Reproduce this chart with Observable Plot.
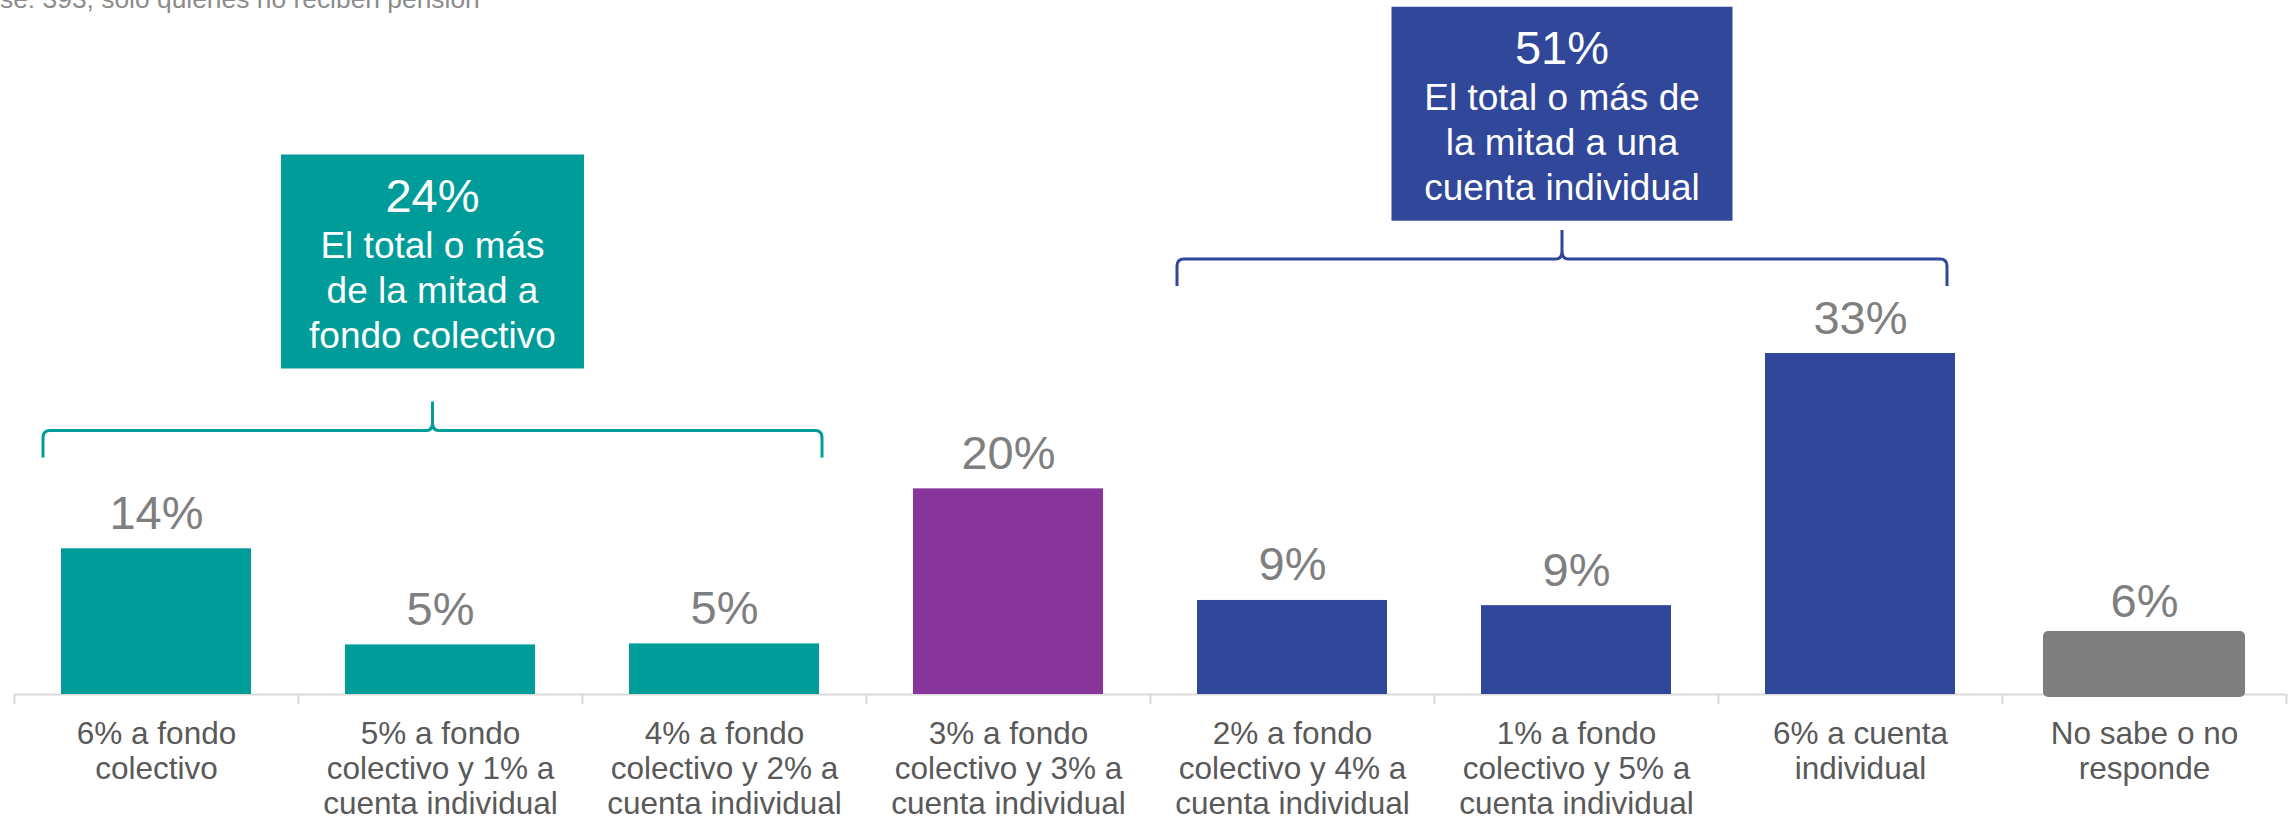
<!DOCTYPE html>
<html>
<head>
<meta charset="utf-8">
<script src="https://cdn.jsdelivr.net/npm/d3@7"></script>
<script src="https://cdn.jsdelivr.net/npm/@observablehq/plot@0.6"></script>
<style>
  html, body { margin: 0; padding: 0; background: #fff; }
  body { width: 2293px; height: 821px; overflow: hidden; position: relative; font-family: "Liberation Sans", Arial, sans-serif; }
  #sub { position: absolute; left: 0; top: -14px; font-size: 26.4px; line-height: 26px; color: #8c8c8c; white-space: nowrap; z-index: 2; }
  #chart svg { display: block; }
</style>
</head>
<body>
<div id="sub"></div>
<div id="chart"></div>
<script>
// ---- data ----
const categories = [
  "6% a fondo\ncolectivo",
  "5% a fondo\ncolectivo y 1% a\ncuenta individual",
  "4% a fondo\ncolectivo y 2% a\ncuenta individual",
  "3% a fondo\ncolectivo y 3% a\ncuenta individual",
  "2% a fondo\ncolectivo y 4% a\ncuenta individual",
  "1% a fondo\ncolectivo y 5% a\ncuenta individual",
  "6% a cuenta\nindividual",
  "No sabe o no\nresponde"
];
const values = [14.1, 4.8, 4.9, 19.9, 9.1, 8.6, 33.0, 6.1];
const valueLabels = ["14%", "5%", "5%", "20%", "9%", "9%", "33%", "6%"];
const barColors = ["#009C99", "#009C99", "#009C99", "#87359B", "#30479A", "#30479A", "#30479A", "#7F7F7F"];
const groupPct = ["24%", "51%"];
const groupText = ["El total o más\nde la mitad a\nfondo colectivo", "El total o más de\nla mitad a una\ncuenta individual"];
const groupFirst = [categories[0], categories[4]];
const groupLast = [categories[2], categories[6]];
const groupColors = ["#009C99", "#30479A"];
const subtitle = "se: 393, solo quienes no reciben pensión";

// ---- layout of annotations (in y-scale units / px) ----
const braceLevel = [25.5, 42.1];
const braceLeftOffset = [-18, -20];
const braceRightOffset = [3, -8];
const boxBottom = [31.5, 45.8];
const boxWidth = [303, 341];
const boxHeight = 214;

document.getElementById("sub").textContent = subtitle;

const rows = categories.map((c, i) => ({cat: c, value: values[i], label: valueLabels[i], color: barColors[i]}));
const main = rows.slice(0, 7);
const other = rows.slice(7);

function annotations(index, scales) {
  const {x, y} = scales;
  const bw = x.bandwidth();
  const g = d3.create("svg:g");
  groupFirst.forEach((first, k) => {
    const x0 = x(first) + braceLeftOffset[k];
    const x1 = x(groupLast[k]) + bw + braceRightOffset[k];
    const xm = (x0 + x1) / 2;
    const yb = y(braceLevel[k]);
    const c = groupColors[k];
    const d = `M${x0},${yb + 27} L${x0},${yb + 7} Q${x0},${yb} ${x0 + 7},${yb} L${xm - 6},${yb} Q${xm},${yb} ${xm},${yb - 8} L${xm},${yb - 29}` +
              ` M${xm},${yb - 8} Q${xm},${yb} ${xm + 6},${yb} L${x1 - 7},${yb} Q${x1},${yb} ${x1},${yb + 7} L${x1},${yb + 27}`;
    g.append("path").attr("d", d).attr("fill", "none").attr("stroke", c).attr("stroke-width", 3);
    const bb = y(boxBottom[k]);
    const top = bb - boxHeight;
    const w = boxWidth[k];
    g.append("rect").attr("x", xm - w / 2).attr("y", top).attr("width", w).attr("height", boxHeight).attr("fill", c);
    g.append("text").attr("x", xm).attr("y", top + 57).attr("text-anchor", "middle")
      .attr("fill", "#fff").attr("font-size", 47).text(groupPct[k]);
    groupText[k].split("\n").forEach((line, j) => {
      g.append("text").attr("x", xm).attr("y", top + 103 + 45 * j).attr("text-anchor", "middle")
        .attr("fill", "#fff").attr("font-size", 37).text(line);
    });
  });
  return g.node();
}

const chart = Plot.plot({
  width: 2293,
  height: 821,
  marginLeft: 14,
  marginRight: 7,
  marginTop: 0,
  marginBottom: 0,
  style: {fontFamily: "'Liberation Sans', Arial, sans-serif", background: "#fff"},
  x: {type: "band", domain: categories, paddingInner: 0.33, paddingOuter: 0.165, axis: null},
  y: {domain: [0, 33], range: [694, 353], axis: null},
  marks: [
    Plot.ruleY([0], {stroke: "#d9d9d9", strokeWidth: 2}),
    Plot.ruleX(categories, {x: d => d, y1: d => 0, y2: d => 0, insetBottom: -10, dx: -142, stroke: "#d9d9d9", strokeWidth: 2}),
    Plot.ruleX([categories[categories.length - 1]], {x: d => d, y1: d => 0, y2: d => 0, insetBottom: -10, dx: 142, stroke: "#d9d9d9", strokeWidth: 2}),
    Plot.barY(main, {x: "cat", y: "value", fill: "color"}),
    Plot.barY(other, {x: "cat", y: "value", fill: "color", insetLeft: -6, insetRight: -6, insetBottom: -3, rx: 5}),
    Plot.text(main, {x: "cat", y: "value", text: "label", dy: -20, lineAnchor: "bottom", fontSize: 47, fill: "#7f7f7f"}),
    Plot.text(other, {x: "cat", y: "value", text: "label", dy: -14, lineAnchor: "bottom", fontSize: 47, fill: "#7f7f7f"}),
    Plot.text(categories, {x: d => d, y: d => 0, text: d => d, lineAnchor: "top", dy: 25, fontSize: 31.5, lineHeight: 1.111, fill: "#595959"}),
    annotations
  ]
});
document.getElementById("chart").appendChild(chart);
</script>
</body>
</html>
